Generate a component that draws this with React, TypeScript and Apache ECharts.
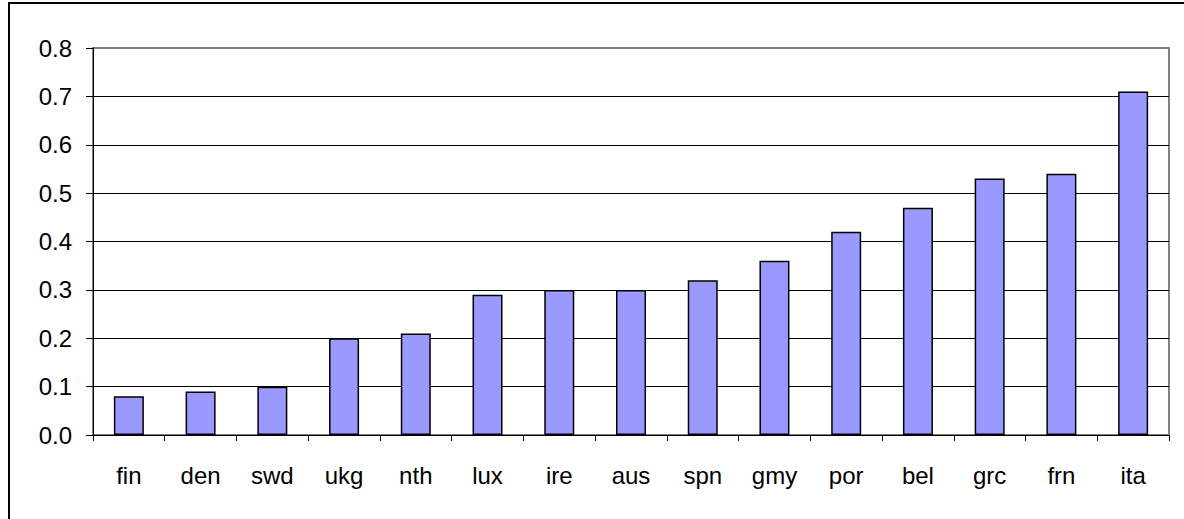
import React, { useEffect, useRef } from "react";
import * as echarts from "echarts";

const categories = ["fin", "den", "swd", "ukg", "nth", "lux", "ire", "aus", "spn", "gmy", "por", "bel", "grc", "frn", "ita"];
const values = [0.08, 0.09, 0.10, 0.20, 0.21, 0.29, 0.30, 0.30, 0.32, 0.36, 0.42, 0.47, 0.53, 0.54, 0.71];
const yMin = 0;
const yMax = 0.8;
const yStep = 0.1;

export default function App() {
  const ref = useRef<HTMLDivElement>(null);
  useEffect(() => {
    document.body.style.margin = "0";
    const chart = echarts.init(ref.current!, null, { renderer: "svg" });
    const font = "'Liberation Sans', Arial, sans-serif";
    chart.setOption({
      animation: false,
      backgroundColor: "#ffffff",
      grid: {
        left: 93,
        top: 48,
        right: 15,
        bottom: 84,
        show: true,
        borderColor: "#808080",
        borderWidth: 2,
        backgroundColor: "transparent",
      },
      graphic: [
        {
          type: "rect",
          shape: { x: 9, y: 3, width: 1300, height: 700 },
          style: { fill: "none", stroke: "#000", lineWidth: 2 },
          silent: true,
        },
      ],
      xAxis: {
        type: "category",
        data: categories,
        boundaryGap: true,
        axisLine: { show: true, lineStyle: { color: "#000", width: 1 } },
        axisTick: { show: true, alignWithLabel: false, length: 6, lineStyle: { color: "#000" } },
        axisLabel: { color: "#000", fontSize: 24, fontFamily: font, margin: 28 },
        splitLine: { show: false },
      },
      yAxis: {
        type: "value",
        min: yMin,
        max: yMax,
        interval: yStep,
        axisLine: { show: true, lineStyle: { color: "#000", width: 1 } },
        axisTick: { show: true, length: 7, lineStyle: { color: "#000" } },
        axisLabel: {
          color: "#000",
          fontSize: 24,
          fontFamily: font,
          margin: 21,
          formatter: (v: number) => v.toFixed(1),
        },
        splitLine: {
          show: true,
          lineStyle: {
            color: ["#000", "#000", "#000", "#000", "#000", "#000", "#000", "#000", "#808080"],
            width: 1,
          },
        },
      },
      series: [
        {
          type: "bar",
          data: values,
          barWidth: 30,
          itemStyle: { color: "#9999FF", borderColor: "#000", borderWidth: 1.5 },
        },
      ],
    });
    return () => chart.dispose();
  }, []);
  return <div ref={ref} style={{ width: 1184, height: 519 }} />;
}
